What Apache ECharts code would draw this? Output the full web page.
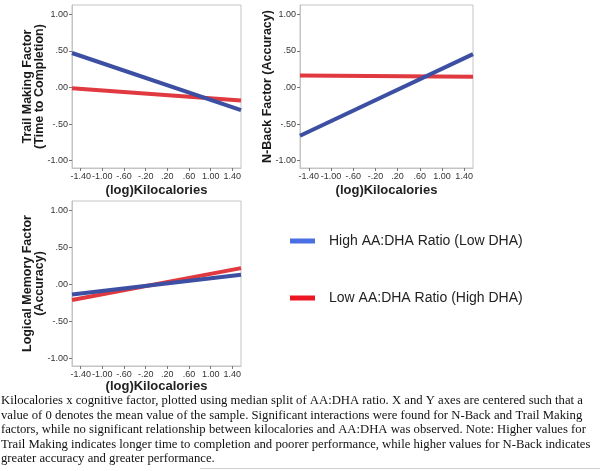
<!DOCTYPE html>
<html>
<head>
<meta charset="utf-8">
<script src="https://cdn.jsdelivr.net/npm/echarts@6/dist/echarts.min.js"></script>
<style>
  html, body { margin: 0; padding: 0; background: #fff; }
  #chart { width: 600px; height: 471px; }
</style>
</head>
<body>
<div id="chart"></div>
<script>
// x ends of each fitted line (centered log kilocalories)
const xEnds = [-1.56, 1.56];
const xTicks = [-1.4, -1.0, -0.6, -0.2, 0.2, 0.6, 1.0, 1.4];
const yTicks = [-1, -0.5, 0, 0.5, 1];

// fitted values at the two x ends
const trailHigh = [0.47, -0.31];
const trailLow = [-0.01, -0.18];
const nbackHigh = [-0.66, 0.455];
const nbackLow = [0.162, 0.145];
const memoryHigh = [-0.135, 0.13];
const memoryLow = [-0.21, 0.22];

const seriesNames = ['High AA:DHA Ratio (Low DHA)', 'Low AA:DHA Ratio (High DHA)'];
const panelNames = [
  'Trail Making Factor\n(Time to Completion)',
  'N-Back Factor (Accuracy)',
  'Logical Memory Factor\n(Accuracy)'
];

const captionLines = [
  'Kilocalories x cognitive factor, plotted using median split of AA:DHA ratio. X and Y axes are centered such that a',
  'value of 0 denotes the mean value of the sample. Significant interactions were found for N-Back and Trail Making',
  'factors, while no significant relationship between kilocalories and AA:DHA was observed. Note: Higher values for',
  'Trail Making indicates longer time to completion and poorer performance, while higher values for N-Back indicates',
  'greater accuracy and greater performance.'
];

const lineBlue = '#3c4fa2';
const lineRed = '#e0393f';

function fmt(v) {
  // SPSS style: drop the leading zero
  let s = Math.abs(v).toFixed(2);
  if (s.startsWith('0')) s = s.slice(1);
  return (v < 0 ? '-' : '') + s;
}

function pairs(vals) {
  return xEnds.map((x, i) => [x, vals[i]]);
}

const grids = [
  { left: 72, top: 5, width: 169, height: 163 },
  { left: 300, top: 5, width: 173, height: 163 },
  { left: 72, top: 201, width: 169, height: 165 }
];

const xAxes = grids.map((g, i) => ({
  type: 'value',
  gridIndex: i,
  min: xEnds[0],
  max: xEnds[1],
  name: '(log)Kilocalories',
  nameLocation: 'middle',
  nameGap: i === 2 ? 14 : 16,
  nameTextStyle: { fontFamily: 'Liberation Sans', fontWeight: 'bold', fontSize: 13, color: '#222' },
  axisLine: { show: true, onZero: false, lineStyle: { color: '#c4c4c4' } },
  axisTick: { show: true, length: 3, customValues: xTicks, lineStyle: { color: '#777' } },
  axisLabel: {
    customValues: xTicks, formatter: fmt, margin: 4,
    fontFamily: 'Liberation Sans', fontSize: 9, color: '#333'
  },
  splitLine: { show: false }
}));

const yAxes = grids.map((g, i) => ({
  type: 'value',
  gridIndex: i,
  min: -1.1,
  max: 1.125,
  name: panelNames[i],
  nameLocation: 'middle',
  nameMoveOverlap: false,
  nameGap: 26,
  nameTextStyle: { fontFamily: 'Liberation Sans', fontWeight: 'bold', fontSize: 12.5, color: '#1a1a1a', lineHeight: 12 },
  axisLine: { show: true, onZero: false, lineStyle: { color: '#c4c4c4' } },
  axisTick: { show: true, length: 3, customValues: yTicks, lineStyle: { color: '#777' } },
  axisLabel: {
    customValues: yTicks, formatter: fmt, margin: 4,
    fontFamily: 'Liberation Sans', fontSize: 9, color: '#333'
  },
  splitLine: { show: false }
}));

const panelData = [[trailHigh, trailLow], [nbackHigh, nbackLow], [memoryHigh, memoryLow]];
const series = [];
panelData.forEach((p, i) => {
  p.forEach((vals, k) => {
    series.push({
      name: seriesNames[k],
      type: 'line',
      xAxisIndex: i,
      yAxisIndex: i,
      data: pairs(vals),
      showSymbol: false,
      silent: true,
      color: k === 0 ? lineBlue : lineRed,
      lineStyle: { width: 4, color: k === 0 ? lineBlue : lineRed },
      z: k === 0 ? 3 : 2
    });
  });
});

const graphics = captionLines.map((t, i) => ({
  type: 'text',
  left: 1,
  top: 394.5 + i * 14.4,
  style: { text: t, font: '12.7px "Liberation Serif"', fill: '#111' }
}));
graphics.push({
  type: 'rect',
  shape: { x: 200, y: 468, width: 400, height: 1 },
  style: { fill: '#cfcfcf' }
});

const chart = echarts.init(document.getElementById('chart'));
chart.setOption({
  animation: false,
  grid: grids.map(g => Object.assign({ show: true, borderColor: '#c4c4c4', borderWidth: 1 }, g)),
  xAxis: xAxes,
  yAxis: yAxes,
  legend: {
    orient: 'vertical',
    left: 285,
    top: 229,
    itemGap: 43,
    itemWidth: 25,
    itemHeight: 5,
    icon: 'rect',
    selectedMode: false,
    data: [
      { name: seriesNames[0], itemStyle: { color: '#4a6fe3' } },
      { name: seriesNames[1], itemStyle: { color: '#ec1622' } }
    ],
    textStyle: { fontFamily: 'Liberation Sans', fontSize: 14, color: '#222', padding: [0, 0, 0, 9] }
  },
  graphic: graphics,
  series: series
});
</script>
</body>
</html>
